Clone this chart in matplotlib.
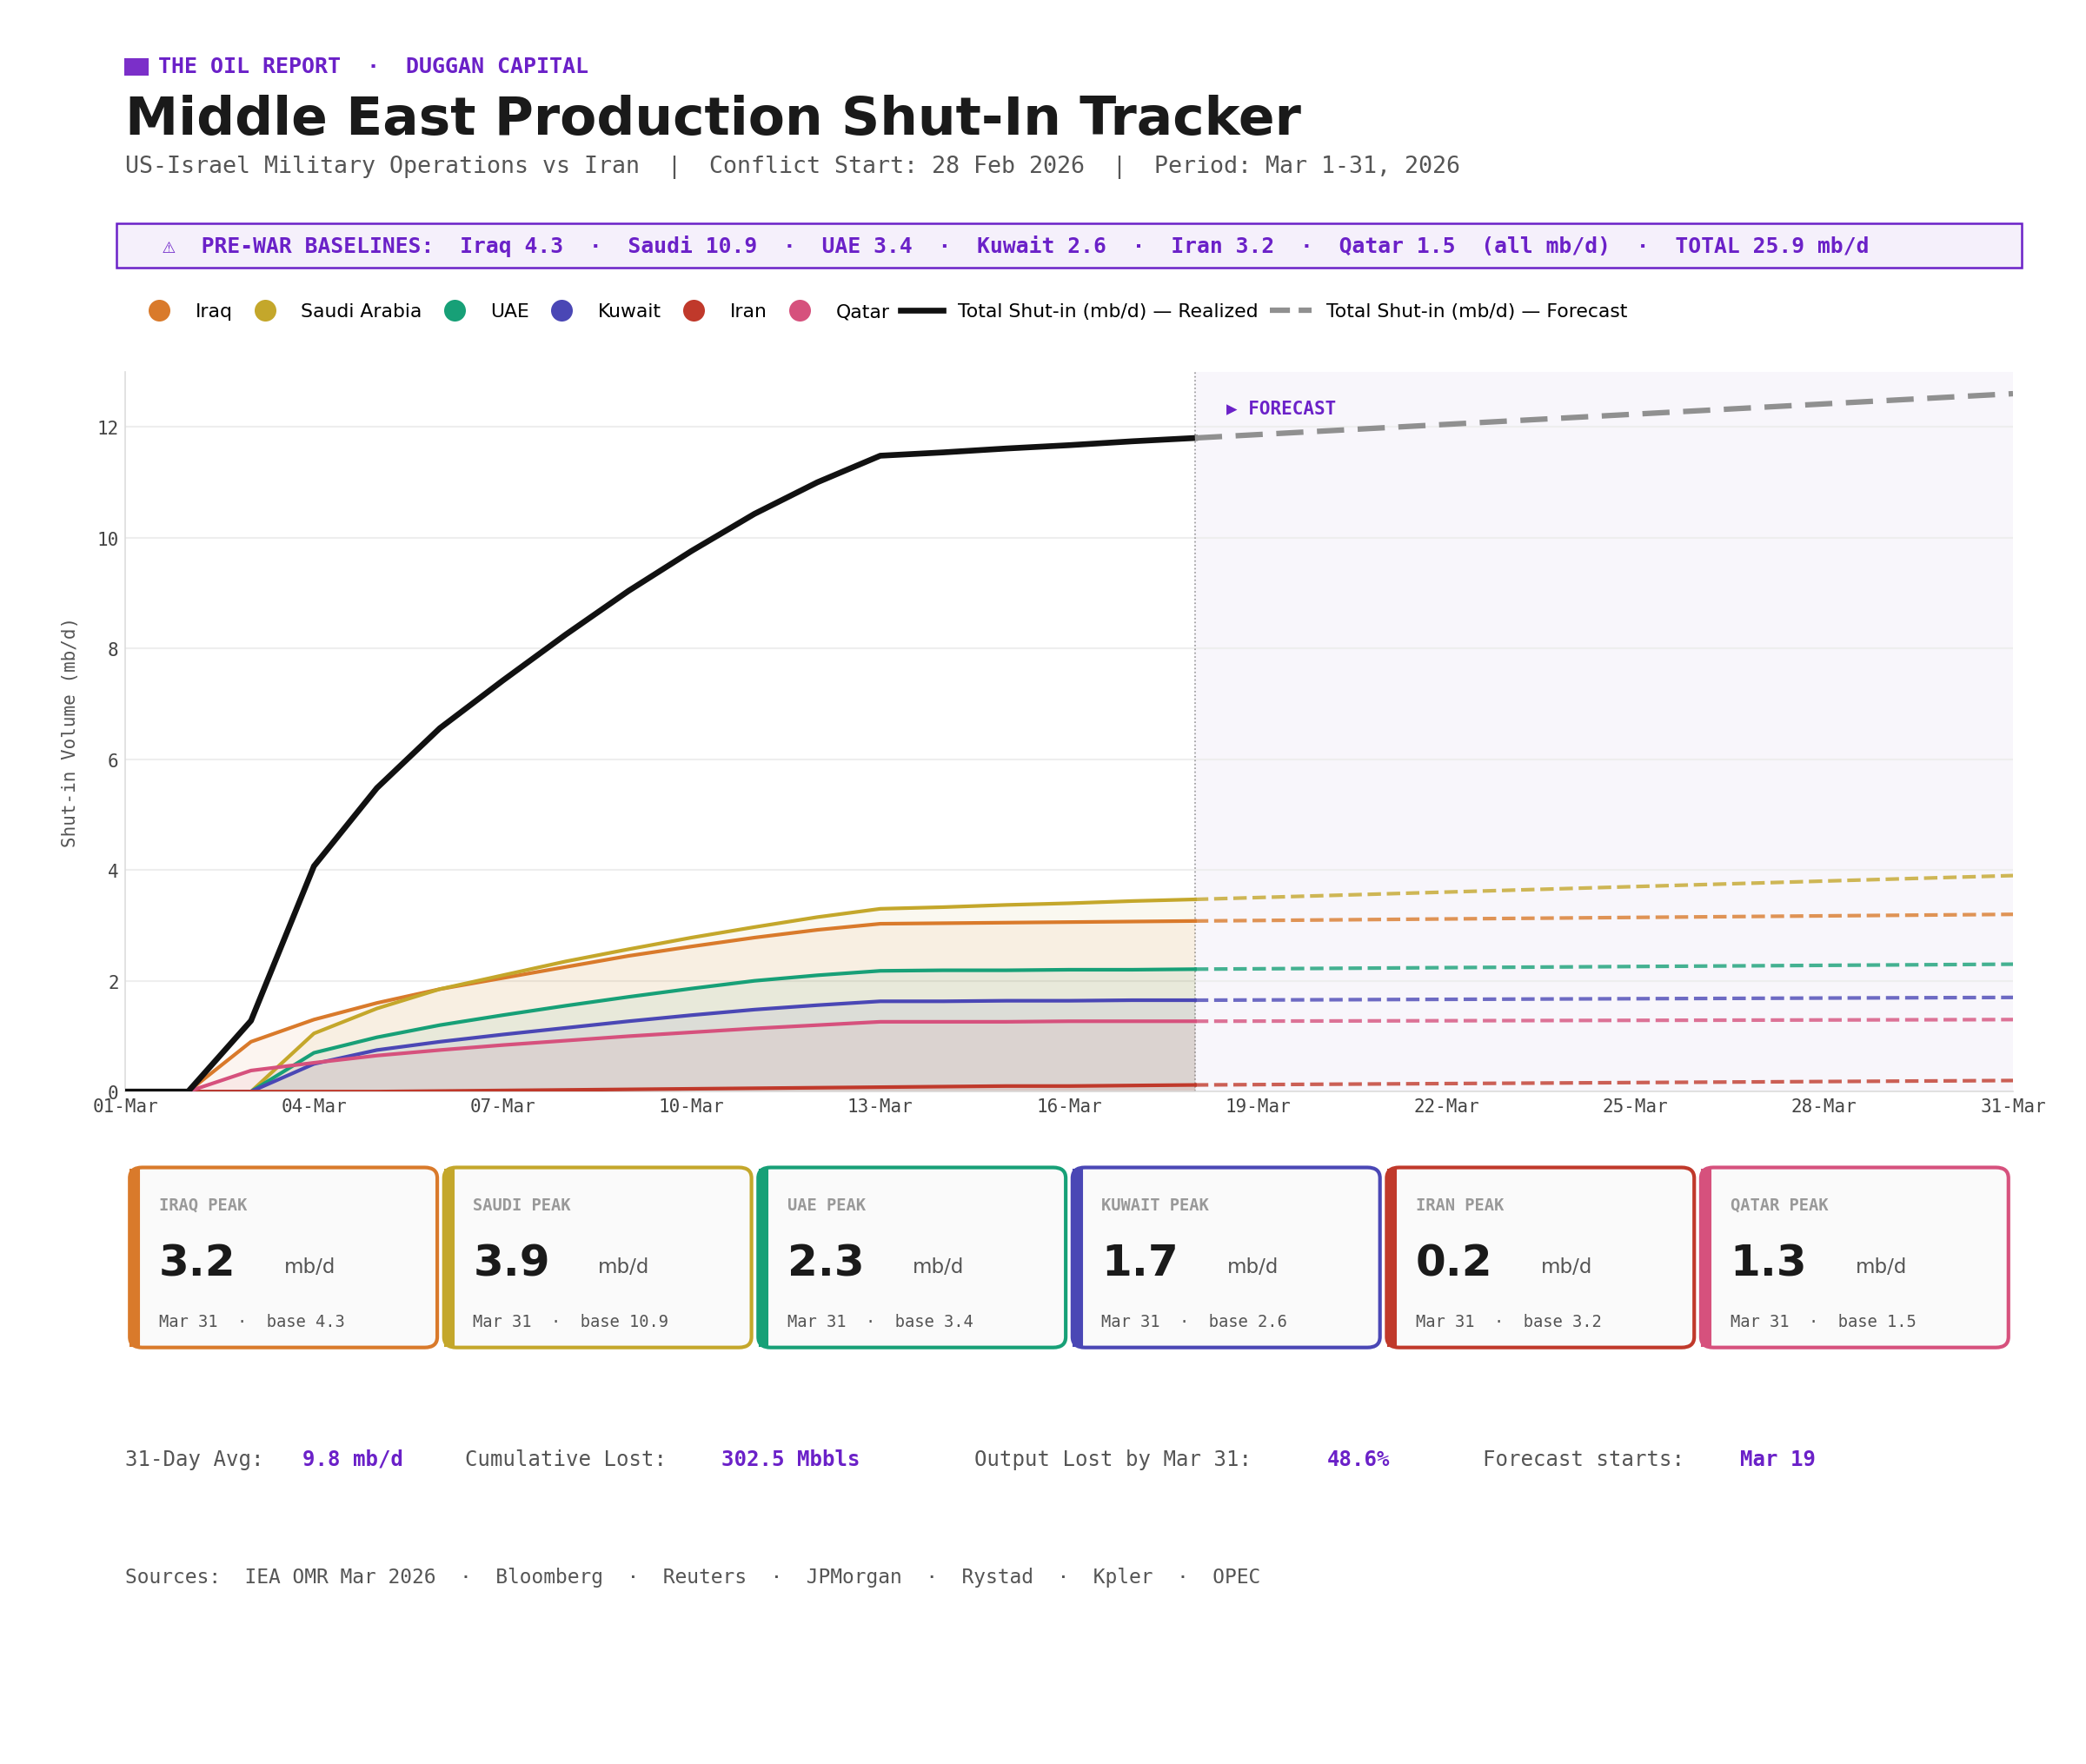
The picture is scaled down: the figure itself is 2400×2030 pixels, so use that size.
import numpy as np
import matplotlib
matplotlib.use("Agg")
import matplotlib.pyplot as plt
from matplotlib.patches import FancyBboxPatch, Rectangle
from matplotlib.lines import Line2D

days = np.arange(1, 19)           # realized, Mar 1..18
fc_days = np.array([18, 31])      # forecast endpoints
countries = ["Iraq", "Saudi Arabia", "UAE", "Kuwait", "Iran", "Qatar"]
short = ["IRAQ", "SAUDI", "UAE", "KUWAIT", "IRAN", "QATAR"]
colors = ["#D97A2B", "#C4A72B", "#17A077", "#4A47B5", "#C0392B", "#D6517D"]
baselines = [4.3, 10.9, 3.4, 2.6, 3.2, 1.5]

iraq   = [0, 0, 0.90, 1.30, 1.60, 1.85, 2.05, 2.25, 2.45, 2.62, 2.78, 2.92, 3.03, 3.04, 3.05, 3.06, 3.07, 3.08]
saudi  = [0, 0, 0, 1.05, 1.50, 1.85, 2.10, 2.35, 2.57, 2.78, 2.97, 3.15, 3.30, 3.33, 3.37, 3.40, 3.44, 3.47]
uae    = [0, 0, 0, 0.70, 0.98, 1.20, 1.38, 1.55, 1.71, 1.86, 2.00, 2.10, 2.18, 2.19, 2.19, 2.20, 2.20, 2.21]
kuwait = [0, 0, 0, 0.50, 0.75, 0.90, 1.03, 1.15, 1.27, 1.38, 1.48, 1.56, 1.63, 1.63, 1.64, 1.64, 1.65, 1.65]
iran   = [0, 0, 0, 0, 0, 0.01, 0.02, 0.03, 0.04, 0.05, 0.06, 0.07, 0.08, 0.09, 0.10, 0.10, 0.11, 0.12]
qatar  = [0, 0, 0.38, 0.52, 0.65, 0.75, 0.84, 0.92, 1.00, 1.07, 1.14, 1.20, 1.26, 1.26, 1.26, 1.27, 1.27, 1.27]
series = [iraq, saudi, uae, kuwait, iran, qatar]
forecast_end = [3.2, 3.9, 2.3, 1.7, 0.2, 1.3]

mono = "DejaVu Sans Mono"
purple = "#6B21C8"

fig = plt.figure(figsize=(16, 13.54), dpi=150)
ax = fig.add_axes([0.060, 0.381, 0.905, 0.408])

ax.axvspan(18, 31, color="#F8F6FB", zorder=0)
ax.axvline(18, color="#999999", lw=0.8, ls=":", zorder=1)
for i in range(len(countries)):
    v = np.array(series[i])
    ax.fill_between(days, 0, v, color=colors[i], alpha=0.07, lw=0, zorder=2)
    ax.plot(days, v, color=colors[i], lw=2, zorder=3)
    ax.plot(fc_days, [v[-1], forecast_end[i]], color=colors[i], lw=2, ls="--", alpha=0.8, zorder=3)
total = np.sum(np.array(series), axis=0)
ax.plot(days, total, color="#111111", lw=3.2, zorder=4)
ax.plot(fc_days, [total[-1], sum(forecast_end)], color="#909090", lw=3, ls=(0, (5, 2.5)), zorder=4)
ax.text(18.5, 12.25, "▶ FORECAST", color=purple, fontsize=10, fontweight="bold", family=mono)

ax.set_xlim(1, 31)
ax.set_ylim(0, 13)
ax.set_xticks(range(1, 32, 3))
ax.set_xticklabels(["%02d-Mar" % d for d in range(1, 32, 3)], family=mono, fontsize=10, color="#444444")
ax.set_yticks(range(0, 13, 2))
ax.set_yticklabels([str(t) for t in range(0, 13, 2)], family=mono, fontsize=10, color="#444444")
ax.set_ylabel("Shut-in Volume (mb/d)", family=mono, fontsize=10, color="#555555", labelpad=10)
ax.grid(axis="y", color="#EEEEEE", lw=1)
ax.set_axisbelow(True)
for s in ["top", "right"]:
    ax.spines[s].set_visible(False)
for s in ["left", "bottom"]:
    ax.spines[s].set_color("#DDDDDD")
ax.tick_params(length=0)

# header
fig.patches.append(Rectangle((0.060, 0.957), 0.011, 0.009, transform=fig.transFigure, color="#7B2FC9"))
fig.text(0.076, 0.962, "THE OIL REPORT  ·  DUGGAN CAPITAL", color=purple, fontsize=12, fontweight="bold", family=mono, va="center")
fig.text(0.060, 0.932, "Middle East Production Shut-In Tracker", fontsize=29.5, fontweight="bold", color="#1A1A1A", va="center")
fig.text(0.060, 0.905, "US-Israel Military Operations vs Iran  |  Conflict Start: 28 Feb 2026  |  Period: Mar 1-31, 2026",
         fontsize=12.8, color="#555555", family=mono, va="center")

fig.patches.append(FancyBboxPatch((0.056, 0.848), 0.913, 0.025, boxstyle="square,pad=0", transform=fig.transFigure,
                                  facecolor="#F5F0FB", edgecolor=purple, lw=1.2))
fig.text(0.078, 0.8605, "⚠  PRE-WAR BASELINES:  Iraq 4.3  ·  Saudi 10.9  ·  UAE 3.4  ·  Kuwait 2.6  ·  Iran 3.2  ·  Qatar 1.5  (all mb/d)  ·  TOTAL 25.9 mb/d",
         color=purple, fontsize=11.8, fontweight="bold", family=mono, va="center")

handles = [Line2D([], [], marker="o", ls="", color=c, markersize=11) for c in colors]
handles += [Line2D([], [], color="#111111", lw=3.2), Line2D([], [], color="#909090", lw=3, ls="--")]
labels = countries + ["Total Shut-in (mb/d) — Realized", "Total Shut-in (mb/d) — Forecast"]
fig.legend(handles, labels, loc="center left", bbox_to_anchor=(0.058, 0.823), ncol=8, frameon=False,
           fontsize=10.5, handlelength=2.2, columnspacing=0.6, handletextpad=0.8)

# cards
for i in range(len(countries)):
    x0 = (97 + 235 * i) / 1560
    w = 230 / 1560
    y0, h = 0.236, 0.102
    fig.patches.append(FancyBboxPatch((x0, y0), w, h, boxstyle="round,pad=0,rounding_size=0.006",
                                      transform=fig.transFigure, facecolor="#FAFAFA", edgecolor=colors[i], lw=2))
    fig.patches.append(Rectangle((x0 + 0.0005, y0 + 0.001), 0.004, h - 0.002, transform=fig.transFigure, color=colors[i]))
    fig.text(x0 + 0.014, y0 + 0.081, short[i] + " PEAK", family=mono, fontsize=9, fontweight="bold", color="#999999", va="center")
    fig.text(x0 + 0.014, y0 + 0.048, "%.1f" % forecast_end[i], fontsize=24, fontweight="bold", color="#1A1A1A", va="center")
    fig.text(x0 + 0.074, y0 + 0.046, "mb/d", fontsize=11, color="#555555", va="center")
    fig.text(x0 + 0.014, y0 + 0.015, "Mar 31  ·  base %s" % baselines[i], family=mono, fontsize=9, color="#555555", va="center")

# footer stats
stats = [("31-Day Avg:", "9.8 mb/d", 0.060, 0.145), ("Cumulative Lost:", "302.5 Mbbls", 0.223, 0.346),
         ("Output Lost by Mar 31:", "48.6%", 0.467, 0.636), ("Forecast starts:", "Mar 19", 0.711, 0.834)]
for lab, val, xl, xv in stats:
    fig.text(xl, 0.173, lab, family=mono, fontsize=11.5, color="#555555", va="center")
    fig.text(xv, 0.173, val, family=mono, fontsize=11.5, fontweight="bold", color=purple, va="center")
fig.text(0.060, 0.106, "Sources:  IEA OMR Mar 2026  ·  Bloomberg  ·  Reuters  ·  JPMorgan  ·  Rystad  ·  Kpler  ·  OPEC",
         family=mono, fontsize=11, color="#555555", va="center")

fig.savefig("out.png", dpi=150, facecolor="white")
